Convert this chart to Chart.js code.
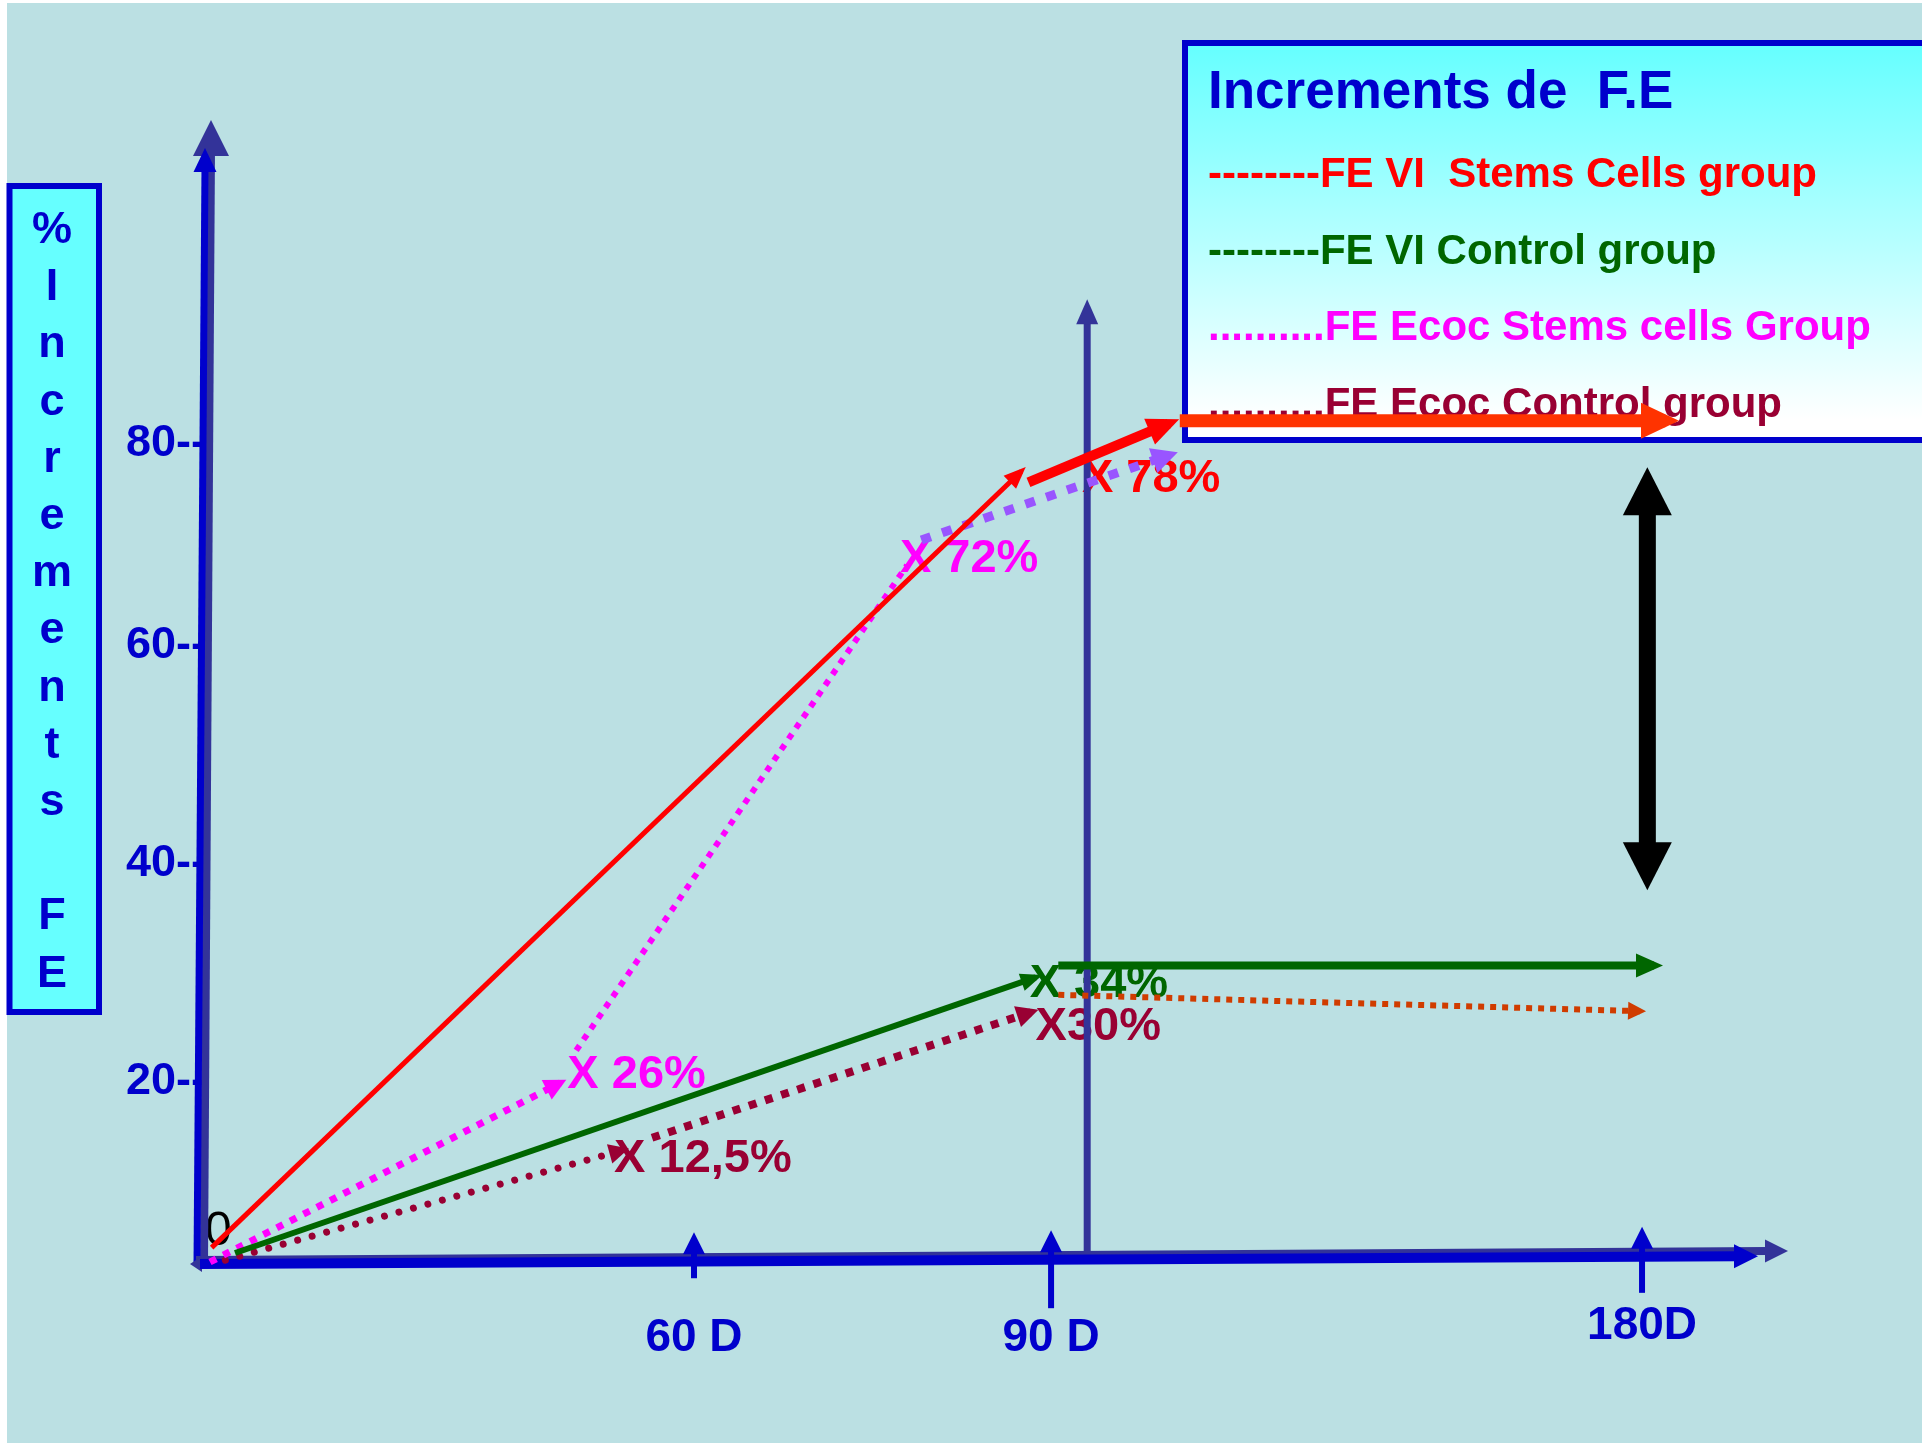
<!DOCTYPE html>
<html>
<head>
<meta charset="utf-8">
<title>Increments de F.E</title>
<script src="https://cdn.jsdelivr.net/npm/chart.js@4.4.0/dist/chart.umd.min.js"></script>
<style>
  html, body { margin: 0; padding: 0; background: #ffffff; }
  canvas { display: block; }
</style>
</head>
<body>
<canvas id="graficoFE" width="1922" height="1446"></canvas>
<script>
// eixos
var xTickDays = [60, 90, 180];
var xTickLabels = ['60 D', '90 D', '180D'];
var yTickValues = [20, 40, 60, 80];

var seriesNames = ['FE VI  Stems Cells group', 'FE VI Control group', 'FE Ecoc Stems cells Group', 'FE Ecoc Control group'];
var seriesPrefix = ['--------', '--------', '..........', '..........'];

// dias / valores (null = quebra entre os tracos)
var viStemDays     = [0.2, 87.5, null, 88.1, 107.9, null, 109.6, 183.5];
var viStemValues   = [1.6, 77.3, null, 76.2, 82.0, null, 82.3, 82.3];
var viCtrlDays     = [3.1, 88.7, null, 91.1, 181.8];
var viCtrlValues   = [1.0, 29.6, null, 30.7, 30.7];
var ecocStemDays   = [0, 43.4, null, 45.4, 77.9, null, 79.1, 108.0];
var ecocStemValues = [0, 19.9, null, 22.9, 68.0, null, 70.5, 78.9];
var ecocCtrlDays   = [1.9, 51.1, null, 54.8, 88.3, null, 91.1, 179.7];
var ecocCtrlValues = [0.2, 12.4, null, 13.8, 26.4, null, 28.0, 26.5];

// marcas "X nn%"
var marcasTextos  = ['X 26%', 'X 72%', 'X 78%', 'X 34%', 'X30%', 'X 12,5%'];
var marcasDias    = [44.3, 77.3, 94.7, 88.2, 88.7, 50.1];
var marcasValores = [21.0, 69.0, 76.9, 29.4, 25.4, 11.9];

// linha vertical e seta dupla
var linhaVertDia = 95.5, linhaVertTopo = 94.3;
var setaDuplaDia = 180.8, setaDuplaTopo = 77.7, setaDuplaBase = 37.6;

var fonte = '"Liberation Sans", Arial, Helvetica, sans-serif';
var azul = '#0000CC', azulEscuro = '#333399';
var coresSerie = ['#FF0000', '#006600', '#FF00FF', '#990033'];
var marcasCores = ['#FF00FF', '#FF00FF', '#FF0000', '#006600', '#990033', '#990033'];

var estilos = [
  [{cor: '#FF0000', larg: 5, seta: [22, 18]}, {cor: '#FF0000', larg: 10, seta: [32, 28]}, {cor: '#FF3300', larg: 13, seta: [38, 36]}],
  [{cor: '#006600', larg: 6, seta: [22, 18]}, {cor: '#006600', larg: 8, seta: [27, 24]}],
  [{cor: '#FF00FF', larg: 7, traco: [7, 8], seta: [22, 22]}, {cor: '#FF00FF', larg: 6, traco: [6, 7]}, {cor: '#9955FF', larg: 9, traco: [10, 12], seta: [26, 26]}],
  [{cor: '#990033', larg: 7, traco: [0.01, 15], ponta: 'round', seta: [20, 20]}, {cor: '#990033', larg: 8, traco: [8, 9], seta: [22, 22]}, {cor: '#D03C00', larg: 6, traco: [6, 6], seta: [18, 18]}]
];

// escala linear por trechos (o desenho nao e proporcional)
function interp(xs, ys, v) {
  var i = 1;
  while (i < xs.length - 1 && v > xs[i]) i++;
  return ys[i - 1] + (v - xs[i - 1]) * (ys[i] - ys[i - 1]) / (xs[i] - xs[i - 1]);
}
function escalaTrechos(id, valores, fracoes) {
  class Escala extends Chart.LinearScale {
    getPixelForValue(v) {
      if (v === null || v === undefined || isNaN(v)) return NaN;
      var f = interp(valores, fracoes, v);
      return this.isHorizontal() ? this.left + f * this.width : this.bottom - f * this.height;
    }
    getValueForPixel(p) {
      var f = this.isHorizontal() ? (p - this.left) / this.width : (this.bottom - p) / this.height;
      return interp(fracoes, valores, f);
    }
  }
  Escala.id = id;
  Escala.defaults = {};
  return Escala;
}
Chart.register(escalaTrechos('dias', [0, 60, 90, 180, 202], [0, 0.3067, 0.533, 0.9075, 1]));
Chart.register(escalaTrechos('pct', [0, 20, 40, 60, 80, 112], [0, 0.1576, 0.3485, 0.5394, 0.7163, 1]));

function partes(dias, valores) {
  var lista = [], atual = [];
  for (var i = 0; i < dias.length; i++) {
    if (dias[i] === null) { lista.push(atual); atual = []; }
    else atual.push({x: dias[i], y: valores[i]});
  }
  lista.push(atual);
  return lista;
}

var series = [
  [viStemDays, viStemValues],
  [viCtrlDays, viCtrlValues],
  [ecocStemDays, ecocStemValues],
  [ecocCtrlDays, ecocCtrlValues]
];
var datasets = [];
series.forEach(function (s, i) {
  partes(s[0], s[1]).forEach(function (pontos, j) {
    var e = estilos[i][j];
    datasets.push({
      label: seriesNames[i],
      data: pontos,
      borderColor: e.cor,
      borderWidth: e.larg,
      borderDash: e.traco || [],
      borderCapStyle: e.ponta || 'butt',
      pointRadius: 0,
      tension: 0,
      fill: false,
      clip: false,
      seta: e.seta
    });
  });
});

function linha(c, x1, y1, x2, y2, w, cor) {
  c.beginPath(); c.moveTo(x1, y1); c.lineTo(x2, y2);
  c.lineWidth = w; c.strokeStyle = cor; c.lineCap = 'butt'; c.stroke();
}
function triangulo(c, tx, ty, ang, comp, larg, cor) {
  c.save();
  c.translate(tx, ty); c.rotate(ang);
  c.beginPath(); c.moveTo(0, 0); c.lineTo(-comp, -larg / 2); c.lineTo(-comp, larg / 2); c.closePath();
  c.fillStyle = cor; c.fill();
  c.restore();
}

var fundo = {
  id: 'fundo',
  beforeDraw: function (chart) {
    var c = chart.ctx;
    c.save();
    c.fillStyle = '#FFFFFF'; c.fillRect(0, 0, chart.width, chart.height);
    c.fillStyle = '#BBE0E3'; c.fillRect(7, 3, chart.width - 7, chart.height - 6);
    c.restore();
  }
};

var desenho = {
  id: 'desenho',
  beforeDatasetsDraw: function (chart) {
    var c = chart.ctx, x = chart.scales.x, y = chart.scales.y;
    var x0 = x.getPixelForValue(0), y0 = y.getPixelForValue(0);
    var xFim = x.right, yTopo = y.top;
    var eixoY = function (px) { return y0 - 9 * (px - x0) / (xFim - x0); };
    c.save();

    // quadro da legenda
    var g = c.createLinearGradient(0, 46, 0, 420);
    g.addColorStop(0, '#66FFFF'); g.addColorStop(1, '#FFFFFF');
    c.fillStyle = g; c.fillRect(1185, 43, 760, 397);
    c.lineWidth = 6; c.strokeStyle = azul; c.strokeRect(1185, 43, 760, 397);
    c.textAlign = 'left'; c.textBaseline = 'alphabetic';
    c.font = 'bold 53px ' + fonte; c.fillStyle = azul;
    c.fillText('Increments de  F.E', 1208, 108);
    c.font = 'bold 42px ' + fonte;
    for (var i = 0; i < seriesNames.length; i++) {
      c.fillStyle = coresSerie[i];
      c.fillText(seriesPrefix[i] + seriesNames[i], 1208, 187 + i * 76.7);
    }

    // titulo do eixo y
    c.fillStyle = '#66FFFF'; c.fillRect(9.5, 186, 89.5, 826);
    c.strokeStyle = azul; c.lineWidth = 6; c.strokeRect(9.5, 186, 89.5, 826);
    var letras = '%Increments FE'.split('');
    c.font = 'bold 45px ' + fonte; c.fillStyle = azul; c.textAlign = 'center';
    letras.forEach(function (l, k) { c.fillText(l, 52, 243 + k * 57.2); });

    // zero
    c.font = '48px ' + fonte; c.fillStyle = '#000000'; c.textAlign = 'left';
    c.fillText('0', x0 - 5, y0 - 17);

    // marcas
    c.font = 'bold 47px ' + fonte;
    for (var m = 0; m < marcasTextos.length; m++) {
      c.fillStyle = marcasCores[m];
      c.fillText(marcasTextos[m], x.getPixelForValue(marcasDias[m]), y.getPixelForValue(marcasValores[m]) + 17);
    }

    // linha vertical
    var vx = x.getPixelForValue(linhaVertDia), vTopo = y.getPixelForValue(linhaVertTopo);
    linha(c, vx, eixoY(vx), vx, vTopo + 20, 7, azulEscuro);
    triangulo(c, vx, vTopo, -Math.PI / 2, 25, 22, azulEscuro);

    // eixo y
    linha(c, x0 - 6, y0, x0 + 1, yTopo + 30, 8, azulEscuro);
    triangulo(c, x0 + 1, yTopo, -Math.PI / 2, 36, 36, azulEscuro);
    linha(c, x0 - 13, y0, x0 - 5, yTopo + 45, 7, azul);
    triangulo(c, x0 - 5, yTopo + 28, -Math.PI / 2, 24, 23, azul);

    // eixo x
    linha(c, x0 - 14, y0 - 2, xFim - 20, eixoY(xFim) - 2, 8, azulEscuro);
    triangulo(c, xFim, eixoY(xFim) - 2, 0, 23, 23, azulEscuro);
    triangulo(c, x0 - 20, y0 + 2, Math.PI, 12, 16, azulEscuro);
    linha(c, x0 - 10, y0 + 2, xFim - 50, eixoY(xFim - 30) + 3, 10, azul);
    triangulo(c, xFim - 30, eixoY(xFim - 30) + 3, 0, 24, 24, azul);

    // marcas de 60, 90, 180 dias
    var caudas = [19, 51, 39];
    xTickDays.forEach(function (d, k) {
      var px = x.getPixelForValue(d), ay = eixoY(px);
      linha(c, px, ay + caudas[k], px, ay - 10, 6, azul);
      triangulo(c, px, ay - 27, -Math.PI / 2, 22, 22, azul);
    });

    // seta dupla
    var dx = x.getPixelForValue(setaDuplaDia);
    var ya = y.getPixelForValue(setaDuplaTopo), yb = y.getPixelForValue(setaDuplaBase);
    c.fillStyle = '#000000'; c.fillRect(dx - 8.5, ya + 40, 17, yb - ya - 80);
    triangulo(c, dx, ya, -Math.PI / 2, 48, 49, '#000000');
    triangulo(c, dx, yb, Math.PI / 2, 48, 49, '#000000');

    c.restore();
  },
  afterDatasetsDraw: function (chart) {
    var c = chart.ctx;
    chart.data.datasets.forEach(function (ds, i) {
      if (!ds.seta) return;
      var pts = chart.getDatasetMeta(i).data;
      var a = pts[pts.length - 2], b = pts[pts.length - 1];
      var ang = Math.atan2(b.y - a.y, b.x - a.x);
      var ext = ds.seta[0] * ds.borderWidth / ds.seta[1];
      triangulo(c, b.x + Math.cos(ang) * ext, b.y + Math.sin(ang) * ext, ang, ds.seta[0], ds.seta[1], ds.borderColor);
    });
  }
};

var ctx = document.getElementById('graficoFE').getContext('2d');
var chart = new Chart(ctx, {
  type: 'line',
  data: { datasets: datasets },
  plugins: [fundo, desenho],
  options: {
    responsive: false,
    animation: false,
    events: [],
    layout: { padding: { left: 10, right: 134, top: 120, bottom: 34 } },
    plugins: { legend: { display: false }, tooltip: { enabled: false } },
    scales: {
      x: {
        type: 'dias',
        min: 0,
        max: 202,
        grid: { display: false, drawTicks: false },
        border: { display: false },
        afterBuildTicks: function (scale) {
          scale.ticks = xTickDays.map(function (v) { return { value: v }; });
        },
        afterFit: function (scale) { scale.height = 150; },
        ticks: {
          autoSkip: false,
          maxRotation: 0,
          minRotation: 0,
          padding: 42,
          color: azul,
          font: function (c) {
            return { family: fonte, size: 46, weight: 'bold', lineHeight: c.index === 2 ? 0.98 : 1.5 };
          },
          callback: function (v, i) { return xTickLabels[i]; }
        }
      },
      y: {
        type: 'pct',
        min: 0,
        max: 112,
        grid: { display: false, drawTicks: false },
        border: { display: false },
        afterBuildTicks: function (scale) {
          scale.ticks = yTickValues.map(function (v) { return { value: v }; });
        },
        afterFit: function (scale) { scale.width = 200; },
        ticks: {
          padding: 4,
          color: azul,
          font: { family: fonte, size: 45, weight: 'bold' },
          callback: function (v) { return v + '--'; }
        }
      }
    }
  }
});
</script>
</body>
</html>
